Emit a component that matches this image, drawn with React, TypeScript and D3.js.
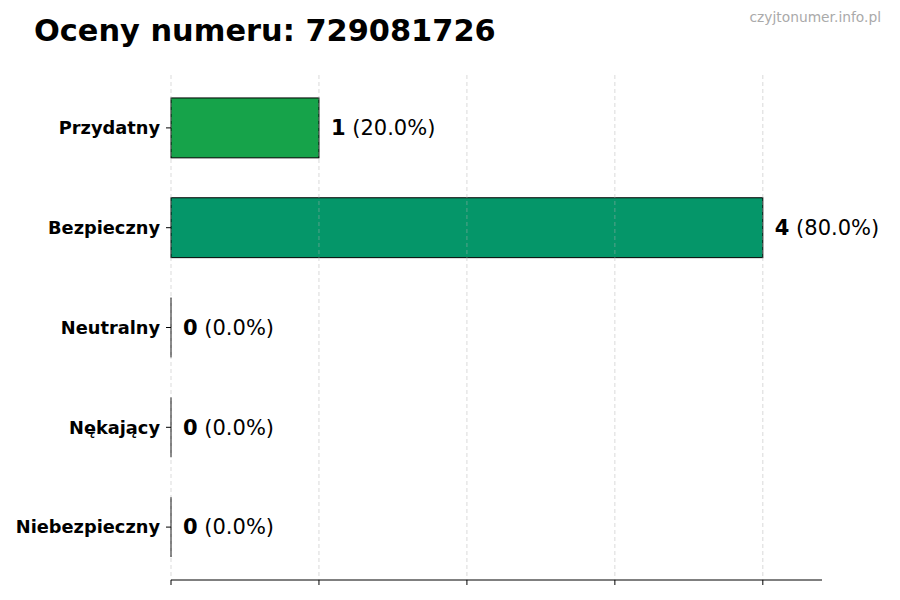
import React from 'react';
import * as d3 from 'd3';

const categories = ['Przydatny', 'Bezpieczny', 'Neutralny', 'Nękający', 'Niebezpieczny'];
const counts = [1, 4, 0, 0, 0];
const percents = ['20.0%', '80.0%', '0.0%', '0.0%', '0.0%'];
const colors = ['#16a34a', '#059669', '#6b7280', '#ea580c', '#dc2626'];
const xTicks = [0, 1, 2, 3, 4];

const App: React.FC = () => {
  const width = 900;
  const height = 600;
  const left = 171;
  const right = 822;
  const top = 75;
  const bottom = 580;

  const xScale = d3.scaleLinear().domain([0, 4.4]).range([left, right]);
  // band positions: index 0 at top, matplotlib-like margins around -0.3..4.3
  const yScale = d3.scaleLinear().domain([-0.53, 4.53]).range([top, bottom]);
  const barH = yScale(0.6) - yScale(0);
  const font = 'DejaVu Sans, sans-serif';

  return (
    <svg width={width} height={height} style={{ position: 'absolute', left: 0, top: 0, background: '#fff' }} fontFamily={font}>
      <text x={34} y={41} fontSize={30.4} fontWeight="bold" fill="#000">Oceny numeru: 729081726</text>
      <text x={881} y={22} fontSize={13.8} fill="#aaaaaa" textAnchor="end">czyjtonumer.info.pl</text>

      <g>
        {categories.map((c, i) => (
          counts[i] > 0 ? (
            <rect
              key={c}
              x={xScale(0)}
              y={yScale(i) - barH / 2}
              width={xScale(counts[i]) - xScale(0)}
              height={barH}
              fill={colors[i]}
              stroke="#000"
              strokeWidth={1}
            />
          ) : (
            <line key={c} x1={xScale(0)} x2={xScale(0)} y1={yScale(i) - barH / 2} y2={yScale(i) + barH / 2} stroke="#000" strokeWidth={1} />
          )
        ))}
      </g>

      <g>
        {xTicks.map(t => (
          <line key={`g-${t}`} x1={xScale(t)} x2={xScale(t)} y1={top} y2={bottom} stroke="#b0b0b0" strokeOpacity={0.6} strokeDasharray="4,3" strokeWidth={0.8} />
        ))}
      </g>

      <line x1={left} x2={right} y1={bottom} y2={bottom} stroke="#000" strokeWidth={1} />
      {xTicks.map(t => (
        <line key={`t-${t}`} x1={xScale(t)} x2={xScale(t)} y1={bottom} y2={bottom + 5} stroke="#000" strokeWidth={1} />
      ))}

      {categories.map((c, i) => (
        <g key={`y-${c}`}>
          <line x1={left - 5} x2={left} y1={yScale(i)} y2={yScale(i)} stroke="#000" strokeWidth={1} />
          <text x={left - 11} y={yScale(i)} dy="0.35em" textAnchor="end" fontSize={17.8} fontWeight="bold" fill="#000">{c}</text>
          <text x={xScale(counts[i]) + 12} y={yScale(i)} dy="0.35em" fontSize={21} fill="#000">
            <tspan fontWeight="bold">{counts[i]}</tspan>
            <tspan> ({percents[i]})</tspan>
          </text>
        </g>
      ))}
    </svg>
  );
};

export default App;
